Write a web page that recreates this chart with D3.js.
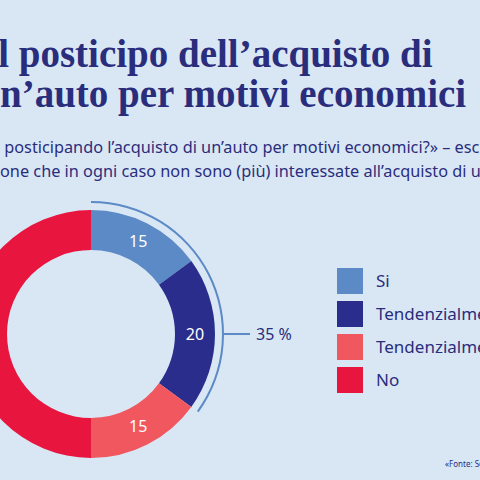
<!DOCTYPE html><html><head><meta charset="utf-8">
<script src="https://cdn.jsdelivr.net/npm/d3@7"></script>
<style>body{margin:0;background:#d9e7f5}svg{display:block}</style></head><body>
<script>
const categories=["Si","Tendenzialmente sì","Tendenzialmente no","No"];
const values=[15,20,15,50];
const colors=["#5b8ac6","#2b2d8c","#f0575e","#e8153f"];
const titleLines=[["Il ","posticipo dell’acquisto di"],["u","n’auto per motivi economici"]];
const subLines=[["«State ","posticipando l’acquisto di un’auto per motivi economici?» – escluse le persone"],["pers","one che in ogni caso non sono (più) interessate all’acquisto di un’auto"]];
const sumLabel="35 %";
const source="«Fonte: Sondaggio»";

const svg=d3.select("body").append("svg").attr("width",480).attr("height",480);
svg.append("rect").attr("width",480).attr("height",480).attr("fill","#d9e7f5");
function placed(lines,y0,dy,font,size,weight,xTarget){
  lines.forEach((l,i)=>{
    const m=svg.append("text").attr("font-family",font).attr("font-size",size).attr("font-weight",weight).text(l[0]);
    const w=m.node().getComputedTextLength();m.remove();
    svg.append("text").attr("x",xTarget[i]-w).attr("y",y0+i*dy).attr("font-family",font).attr("font-size",size)
      .attr("font-weight",weight).attr("fill","#2a2d7c").text(l[0]+l[1]);
  });
}
placed(titleLines,67,40,"Liberation Serif",39,"bold",[9,0]);
placed(subLines,153,24,"Noto Sans",16.3,"normal",[0,0]);

const cx=91,cy=334,ro=124,ri=84;
const g=svg.append("g").attr("transform",`translate(${cx},${cy})`);
const pie=d3.pie().sort(null).value(d=>d)(values);
const arc=d3.arc().innerRadius(ri).outerRadius(ro);
g.selectAll("path").data(pie).join("path").attr("d",arc).attr("fill",(d,i)=>colors[i]);
g.selectAll("text.v").data(pie.slice(0,3)).join("text").attr("class","v")
  .attr("transform",d=>`translate(${arc.centroid(d)})`)
  .attr("text-anchor","middle").attr("dy","0.35em").attr("font-family","Noto Sans").attr("font-size",16)
  .attr("fill","#fff").text(d=>d.data);
const sumEnd=(values[0]+values[1])/100*2*Math.PI;
g.append("path").attr("d",d3.arc().innerRadius(131).outerRadius(133).startAngle(0).endAngle(sumEnd)()).attr("fill","#5b8ac6");
g.append("line").attr("x1",133).attr("x2",159).attr("y1",0).attr("y2",0).attr("stroke","#5b8ac6").attr("stroke-width",2);
g.append("text").attr("x",165).attr("y",0).attr("dy","0.35em").attr("font-family","Noto Sans").attr("font-size",16).attr("fill","#2a2d7c").text(sumLabel);

const lg=svg.append("g").attr("transform","translate(337,268)");
categories.forEach((c,i)=>{
  lg.append("rect").attr("y",i*33).attr("width",26).attr("height",26).attr("fill",colors[i]);
  lg.append("text").attr("x",39).attr("y",i*33+13).attr("dy","0.35em").attr("font-family","Noto Sans").attr("font-size",17).attr("fill","#2a2d7c").text(c);
});
svg.append("text").attr("x",445).attr("y",467).attr("font-family","Noto Sans").attr("font-size",8).attr("fill","#2a2d7c").text(source);
</script></body></html>
